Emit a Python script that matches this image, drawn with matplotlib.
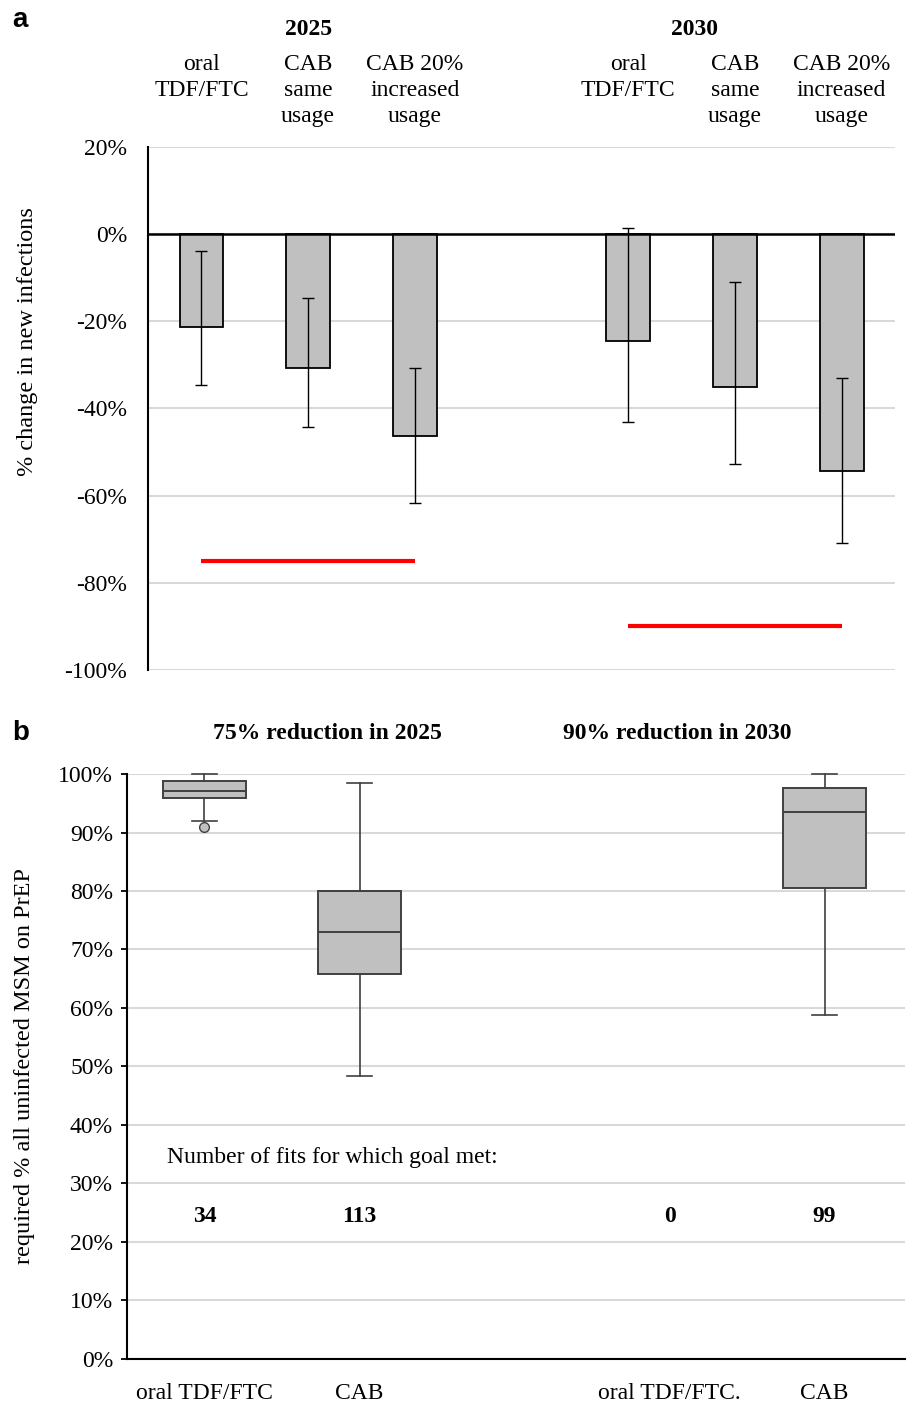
import matplotlib
matplotlib.use("Agg")
import matplotlib.pyplot as plt
import numpy as np

plt.rcParams['font.family'] = ['Liberation Serif', 'DejaVu Serif']

# panel a data
cat_a = ["oral\nTDF/FTC", "CAB\nsame\nusage", "CAB 20%\nincreased\nusage"] * 2
years = ["2025", "2030"]
pos_a = [0, 1, 2, 4, 5, 6]
change = [-21.4, -30.7, -46.4, -24.4, -35.1, -54.4]
ci_hi = [-3.8, -14.7, -30.7, 1.4, -11.0, -32.9]
ci_lo = [-34.7, -44.2, -61.6, -43.0, -52.8, -70.9]
targets = [-75, -90]

# panel b data
cat_b = ["oral TDF/FTC", "CAB", "oral TDF/FTC.", "CAB"]
pos_b = [1, 2, 4, 5]
goals = ["75% reduction in 2025", "90% reduction in 2030"]
n_fits = [34, 113, 0, 99]
box_pos = [1, 2, 5]
box_stats = [
    dict(whislo=92.0, q1=95.9, med=97.1, q3=98.8, whishi=100.0, fliers=[90.9]),
    dict(whislo=48.4, q1=65.8, med=73.0, q3=80.0, whishi=98.5, fliers=[]),
    dict(whislo=58.8, q1=80.5, med=93.5, q3=97.6, whishi=100.0, fliers=[]),
]

grid_c = "#d9d9d9"
fs = 17

fig = plt.figure(figsize=(9.07, 14.12), dpi=100)

# ---------- panel a ----------
ax1 = fig.add_axes([0.1632, 0.5255, 0.8236, 0.3704])
vals = np.array(change)
yerr = np.array([vals - np.array(ci_lo), np.array(ci_hi) - vals])
ax1.bar(pos_a, vals, width=0.41, color="#c0c0c0", edgecolor="black", linewidth=1.3, zorder=3)
ax1.errorbar(pos_a, vals, yerr=yerr, fmt="none", ecolor="black", elinewidth=1,
             capsize=4.3, capthick=1, zorder=4)
ax1.axhline(0, color="black", lw=1.8, zorder=5)
for i, t in enumerate(targets):
    ax1.hlines(t, pos_a[3 * i], pos_a[3 * i + 2], color="red", lw=3, zorder=4)

ax1.set_xlim(-0.5, 6.5)
ax1.set_ylim(-100, 20)
ax1.set_yticks(np.arange(-100, 21, 20))
ax1.set_yticklabels(["%d%%" % v for v in np.arange(-100, 21, 20)], fontsize=fs)
ax1.set_xticks([])
ax1.tick_params(axis="y", length=0, pad=15)
ax1.grid(axis="y", color=grid_c, lw=1.5, zorder=0)
for s in ["top", "right", "bottom"]:
    ax1.spines[s].set_visible(False)
ax1.spines["left"].set_linewidth(1.5)

tr = ax1.get_xaxis_transform()
for x, lab in zip(pos_a, cat_a):
    ax1.text(x, 1.178, lab, transform=tr, ha="center", va="top", fontsize=fs,
             linespacing=1.31)
for x, y in zip([1, 4.62], years):
    ax1.text(x, 1.225, y, transform=tr, ha="center", va="center", fontsize=fs,
             fontweight="bold")

fig.text(28 / 907, 1 - 342 / 1412, "% change in new infections", rotation=90,
         ha="center", va="center", fontsize=17.5)
fig.text(12 / 907, 1 - 20 / 1412, "a", family="Liberation Sans", fontweight="bold",
         fontsize=20, ha="left", va="center")

# ---------- panel b ----------
ax2 = fig.add_axes([0.140, 0.03754, 0.858, 0.4143])
ec = "#404040"
art = ax2.bxp(box_stats, positions=box_pos, widths=0.53, patch_artist=True,
              capwidths=0.16,
              boxprops=dict(facecolor="#c0c0c0", edgecolor=ec, linewidth=1.4),
              medianprops=dict(color=ec, linewidth=1.4),
              whiskerprops=dict(color=ec, linewidth=1.2),
              capprops=dict(color=ec, linewidth=1.2),
              flierprops=dict(marker="o", markerfacecolor="#c0c0c0",
                              markeredgecolor=ec, markersize=7))
for k in art:
    for a in art[k]:
        a.set_clip_on(False)
        a.set_zorder(3)

ax2.set_xlim(0.5, 5.52)
ax2.set_ylim(0, 100)
ax2.set_yticks(np.arange(0, 101, 10))
ax2.set_yticklabels(["%d%%" % v for v in np.arange(0, 101, 10)], fontsize=fs)
ax2.set_xticks(pos_b)
ax2.set_xticklabels(cat_b, fontsize=fs)
ax2.tick_params(axis="x", length=0, pad=17)
ax2.tick_params(axis="y", length=4, width=1.3, pad=6)
ax2.grid(axis="y", color=grid_c, lw=1.5, zorder=0)
ax2.set_axisbelow(True)
for s in ["top", "right"]:
    ax2.spines[s].set_visible(False)
for s in ["left", "bottom"]:
    ax2.spines[s].set_linewidth(1.5)

ax2.text(0.76, 34.5, "Number of fits for which goal met:", ha="left", va="center",
         fontsize=fs)
for x, n in zip(pos_b, n_fits):
    ax2.text(x, 24.4, str(n), ha="center", va="center", fontsize=fs, fontweight="bold")

tr2 = ax2.get_xaxis_transform()
for x, g in zip([1.79, 4.05], goals):
    ax2.text(x, 1.07, g, transform=tr2, ha="center", va="center", fontsize=fs,
             fontweight="bold")

fig.text(25 / 907, 1 - 1066 / 1412, "required % all uninfected MSM on PrEP",
         rotation=90, ha="center", va="center", fontsize=17.5)
fig.text(12 / 907, 1 - 733 / 1412, "b", family="Liberation Sans", fontweight="bold",
         fontsize=20, ha="left", va="center")

fig.savefig("out.png", dpi=100)
